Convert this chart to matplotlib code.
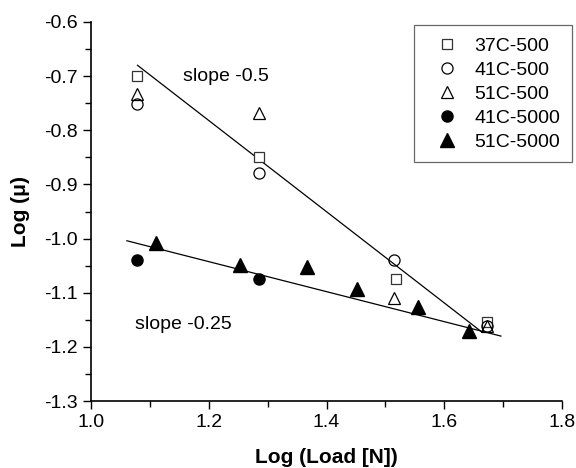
import numpy as np
import matplotlib.pyplot as plt
from matplotlib.ticker import MultipleLocator

plt.rcParams['font.family'] = ['Liberation Sans', 'DejaVu Sans']

# data
x_37c_500 = [1.078, 1.285, 1.517, 1.672]
y_37c_500 = [-0.700, -0.849, -1.075, -1.154]
x_41c_500 = [1.078, 1.285, 1.515, 1.672]
y_41c_500 = [-0.751, -0.878, -1.039, -1.162]
x_51c_500 = [1.078, 1.285, 1.515, 1.672]
y_51c_500 = [-0.733, -0.768, -1.110, -1.162]
x_41c_5000 = [1.078, 1.285]
y_41c_5000 = [-1.039, -1.075]
x_51c_5000 = [1.111, 1.253, 1.367, 1.451, 1.555, 1.642]
y_51c_5000 = [-1.008, -1.049, -1.053, -1.093, -1.127, -1.170]

# fitted lines (end points)
fit1_x = [1.079, 1.663]
fit1_y = [-0.680, -1.172]
fit2_x = [1.061, 1.696]
fit2_y = [-1.004, -1.180]

fig = plt.figure(figsize=(5.76, 4.68), dpi=100)
ax = fig.add_axes([0.158, 0.143, 0.818, 0.81])

ax.plot(fit1_x, fit1_y, color='black', lw=0.9)
ax.plot(fit2_x, fit2_y, color='black', lw=0.9)

ax.plot(x_37c_500, y_37c_500, 's', mfc='white', mec='#333333', ms=7, mew=0.9, ls='none', label='37C-500')
ax.plot(x_41c_500, y_41c_500, 'o', mfc='none', mec='black', ms=8, mew=0.9, ls='none', label='41C-500')
ax.plot(x_51c_500, y_51c_500, '^', mfc='none', mec='black', ms=9, mew=0.9, ls='none', label='51C-500')
ax.plot(x_41c_5000, y_41c_5000, 'o', color='black', ms=8, ls='none', label='41C-5000')
ax.plot(x_51c_5000, y_51c_5000, '^', color='black', ms=10, ls='none', label='51C-5000')

ax.text(1.157, -0.700, 'slope -0.5', fontsize=14, va='center')
ax.text(1.075, -1.158, 'slope -0.25', fontsize=14, va='center')

ax.set_xlim(1.0, 1.8)
ax.set_ylim(-1.3, -0.6)
ax.xaxis.set_major_locator(MultipleLocator(0.2))
ax.xaxis.set_minor_locator(MultipleLocator(0.1))
ax.yaxis.set_major_locator(MultipleLocator(0.1))
ax.yaxis.set_minor_locator(MultipleLocator(0.05))
ax.xaxis.set_major_formatter(plt.FormatStrFormatter('%.1f'))
ax.yaxis.set_major_formatter(plt.FormatStrFormatter('%.1f'))
ax.tick_params(which='major', direction='out', length=6, width=1, labelsize=14)
ax.tick_params(which='minor', direction='out', length=4, width=1)

ax.spines['top'].set_visible(False)
ax.spines['right'].set_visible(False)
ax.spines['left'].set_linewidth(1.2)
ax.spines['bottom'].set_linewidth(1.2)

ax.set_xlabel('Log (Load [N])', fontsize=15, fontweight='bold', labelpad=12)
ax.set_ylabel('Log (μ)', fontsize=15, fontweight='bold', labelpad=10)

leg = ax.legend(loc='upper right', bbox_to_anchor=(1.021, 0.991), borderaxespad=0,
                fontsize=14, frameon=True, fancybox=False, edgecolor='#444444',
                handletextpad=0.3, borderpad=0.6, labelspacing=0.33, handlelength=2.2)
leg.get_frame().set_linewidth(0.9)

fig.savefig('out.png', dpi=100)
